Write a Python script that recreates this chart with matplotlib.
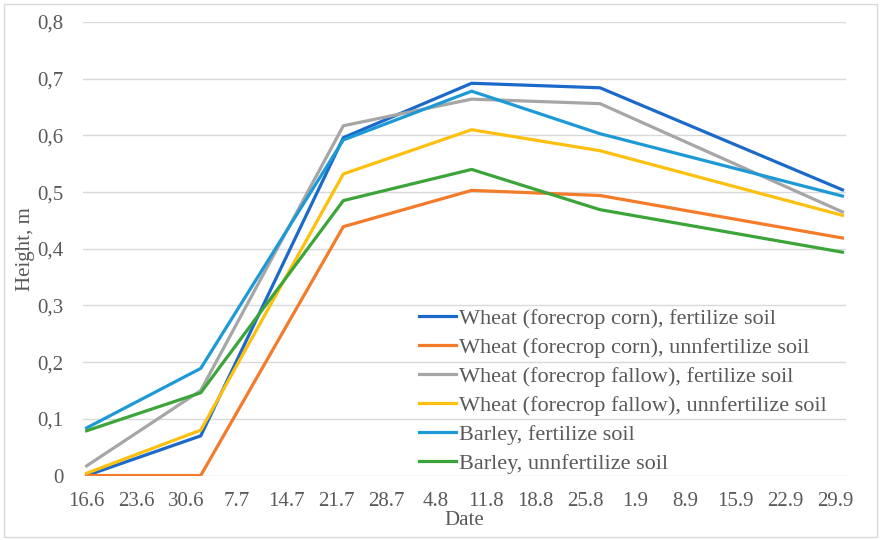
import numpy as np
import pandas as pd
import matplotlib
matplotlib.use('Agg')
import matplotlib.pyplot as plt
from matplotlib.patches import Rectangle

# measurement dates (day.month)
dates = pd.to_datetime(['2019-06-16', '2019-07-02', '2019-07-22',
                        '2019-08-09', '2019-08-27', '2019-09-30'])

wheat_corn_fert = [0.000, 0.070, 0.596, 0.692, 0.684, 0.504]
wheat_corn_unfert = [0.000, 0.000, 0.439, 0.503, 0.494, 0.419]
wheat_fallow_fert = [0.017, 0.150, 0.617, 0.664, 0.656, 0.465]
wheat_fallow_unfert = [0.004, 0.080, 0.532, 0.610, 0.573, 0.459]
barley_fert = [0.084, 0.189, 0.592, 0.678, 0.603, 0.493]
barley_unfert = [0.079, 0.146, 0.485, 0.540, 0.469, 0.394]

series_names = ['Wheat (forecrop corn), fertilize soil',
                'Wheat (forecrop corn), unnfertilize soil',
                'Wheat (forecrop fallow), fertilize soil',
                'Wheat (forecrop fallow), unnfertilize soil',
                'Barley, fertilize soil',
                'Barley, unnfertilize soil']
series_values = [wheat_corn_fert, wheat_corn_unfert, wheat_fallow_fert,
                 wheat_fallow_unfert, barley_fert, barley_unfert]
colors = ['#1b6ac9', '#f47b2a', '#a6a6a6', '#fdc00f', '#1d9ad6', '#3ca53a']

tick_labels = ['16.6', '23.6', '30.6', '7.7', '14.7', '21.7', '28.7', '4.8',
               '11.8', '18.8', '25.8', '1.9', '8.9', '15.9', '22.9', '29.9']
y_ticks = [0, 0.1, 0.2, 0.3, 0.4, 0.5, 0.6, 0.7, 0.8]
y_tick_labels = ['0', '0,1', '0,2', '0,3', '0,4', '0,5', '0,6', '0,7', '0,8']

plt.rcParams['font.family'] = ['Liberation Serif', 'DejaVu Serif']
txt = '#595959'

fig = plt.figure(figsize=(8.84, 5.4), dpi=100)
ax = fig.add_axes([0.094, 0.1194, 0.863, 0.8398])

for name, vals, c in zip(series_names, series_values, colors):
    ax.plot(dates, vals, color=c, lw=2.3, label=name, solid_joinstyle='round')

tick_pos = pd.date_range('2019-06-16', periods=len(tick_labels), freq='7D')
ax.set_xticks(tick_pos)
ax.set_xticklabels(tick_labels)
ax.set_xlim(pd.Timestamp('2019-06-16') - pd.Timedelta(hours=12),
            pd.Timestamp('2019-06-16') + pd.Timedelta(days=106.5))
ax.set_yticks(y_ticks)
ax.set_yticklabels(y_tick_labels)
ax.set_ylim(0, 0.8)

ax.grid(axis='y', color='#d9d9d9', lw=1)
ax.set_axisbelow(True)
for s in ax.spines.values():
    s.set_visible(False)
ax.tick_params(length=0, labelsize=15, colors=txt)
ax.tick_params(axis='y', pad=14)
ax.tick_params(axis='x', pad=12)

ax.set_ylabel('Height, m', fontsize=15, color=txt, labelpad=2)
ax.set_xlabel('Date', fontsize=15, color=txt, labelpad=0)

ax.legend(loc='upper left', bbox_to_anchor=(0.461, 0.449),
          bbox_transform=fig.transFigure, frameon=False, fontsize=16,
          borderpad=0, handlelength=1.7, handletextpad=0.12,
          labelspacing=0.38, labelcolor=txt)

fig.patches.append(Rectangle((0.005, 0.006), 0.987, 0.986, transform=fig.transFigure,
                             fill=False, edgecolor='#d9d9d9', lw=1))

plt.savefig('out.png', dpi=100)
plt.close()
